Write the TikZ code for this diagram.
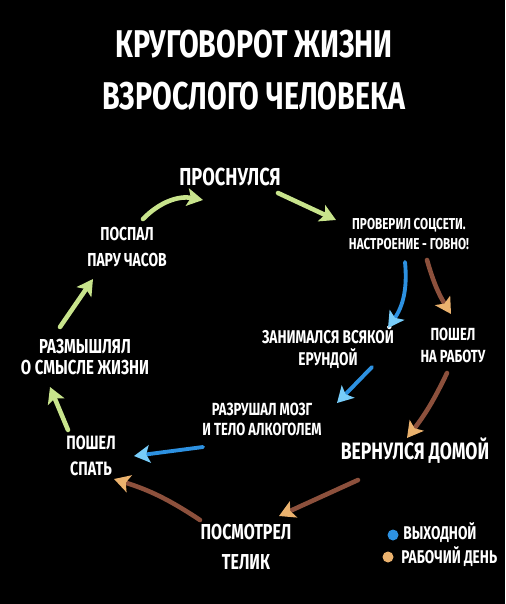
\documentclass[tikz,border=0pt]{standalone}
\usepackage{fontspec}
\setmainfont{Fira Sans}[FakeStretch=0.74]
\usetikzlibrary{arrows.meta}

\definecolor{leaf}{RGB}{200,228,140}
\definecolor{sky}{RGB}{45,145,225}
\definecolor{skyhead}{RGB}{120,205,250}
\definecolor{rust}{RGB}{140,80,60}
\definecolor{rusthead}{RGB}{235,178,110}

\begin{document}
\begin{tikzpicture}[x=0.02cm,y=0.02cm,
    every node/.style={text=white,align=center,inner sep=0pt},
    weekday/.style={rust,line width=2.6pt,line cap=round,
      -{Stealth[length=9pt,width=10pt,inset=2pt,fill=rusthead,color=rusthead]}},
    weekend/.style={sky,line width=2.2pt,line cap=round,
      -{Stealth[length=9pt,width=10pt,inset=2pt,fill=skyhead,color=skyhead]}},
    both/.style={leaf,line width=2.6pt,line cap=round,
      -{Stealth[length=9pt,width=10pt,inset=2pt]}}]
  \fill[black] (0,0) rectangle (505,-604);

  % title
  \node[font=\fontsize{22}{29.5}\selectfont\bfseries] (title) at (254,-70)
    {КРУГОВОРОТ ЖИЗНИ\\ВЗРОСЛОГО ЧЕЛОВЕКА};

  % steps of the day
  \node[font=\fontsize{14}{16}\selectfont\bfseries] (woke) at (230,-177) {ПРОСНУЛСЯ};
  \node[font=\fontsize{9}{11.3}\selectfont\bfseries] (social) at (409,-234)
    {ПРОВЕРИЛ СОЦСЕТИ.\\НАСТРОЕНИЕ - ГОВНО!};
  \node[font=\fontsize{10.5}{12.5}\selectfont\bfseries] (nonsense) at (328,-348)
    {ЗАНИМАЛСЯ ВСЯКОЙ\\ЕРУНДОЙ};
  \node[font=\fontsize{10}{12.5}\selectfont\bfseries] (work) at (453,-345)
    {ПОШЕЛ\\НА РАБОТУ};
  \node[font=\fontsize{10}{11.3}\selectfont\bfseries] (drink) at (262,-419)
    {РАЗРУШАЛ МОЗГ\\И ТЕЛО АЛКОГОЛЕМ};
  \node[font=\fontsize{13.5}{16}\selectfont\bfseries] (home) at (415,-451) {ВЕРНУЛСЯ ДОМОЙ};
  \node[font=\fontsize{12.3}{17}\selectfont\bfseries] (tv) at (246,-547)
    {ПОСМОТРЕЛ\\ТЕЛИК};
  \node[font=\fontsize{11}{14.7}\selectfont\bfseries] (bed) at (91,-456)
    {ПОШЕЛ\\СПАТЬ};
  \node[font=\fontsize{11.5}{11.5}\selectfont\bfseries] (think) at (85,-357)
    {РАЗМЫШЛЯЛ\\О СМЫСЛЕ ЖИЗНИ};
  \node[font=\fontsize{10.7}{15.3}\selectfont\bfseries] (nap) at (127,-247)
    {ПОСПАЛ\\ПАРУ ЧАСОВ};

  % legend
  \fill[sky] (393,-535) circle (5.5) coordinate (dotblue);
  \fill[rusthead] (388,-557) circle (5.5) coordinate (dotrust);
  \node[anchor=west,font=\fontsize{10.5}{12}\selectfont\bfseries] (offday) at (403,-533) {ВЫХОДНОЙ};
  \node[anchor=west,font=\fontsize{10.5}{12}\selectfont\bfseries] (workday) at (401,-557) {РАБОЧИЙ ДЕНЬ};

  % arrow ends
  \coordinate (g1a) at (143,-219); \coordinate (g1b) at (203,-200);
  \coordinate (g2a) at (278,-193); \coordinate (g2b) at (336,-220);
  \coordinate (g3a) at (60,-327);  \coordinate (g3b) at (93,-279);
  \coordinate (g4a) at (68,-430);  \coordinate (g4b) at (50,-387);
  \coordinate (b1a) at (405,-262); \coordinate (b1b) at (388,-328);
  \coordinate (o1a) at (427,-260); \coordinate (o1b) at (451,-314);
  \coordinate (b2a) at (372,-367); \coordinate (b2b) at (337,-403);
  \coordinate (o2a) at (447,-373); \coordinate (o2b) at (407,-438);
  \coordinate (b3a) at (203,-447); \coordinate (b3b) at (134,-456);
  \coordinate (o3a) at (358,-480); \coordinate (o3b) at (279,-516);
  \coordinate (o4a) at (200,-520); \coordinate (o4b) at (114,-479);

  \draw[both] (g1a) to[bend left=28] (g1b);
  \draw[both] (g2a) -- (g2b);
  \draw[weekend] (b1a) to[bend left=20] (b1b);
  \draw[weekday] (o1a) to[bend right=8] (o1b);
  \draw[weekend] (b2a) -- (b2b);
  \draw[weekday] (o2a) to[bend left=6] (o2b);
  \draw[weekend] (b3a) -- (b3b);
  \draw[weekday] (o3a) -- (o3b);
  \draw[weekday] (o4a) to[bend right=8] (o4b);
  \draw[both] (g4a) -- (g4b);
  \draw[both] (g3a) -- (g3b);
\end{tikzpicture}
\end{document}
